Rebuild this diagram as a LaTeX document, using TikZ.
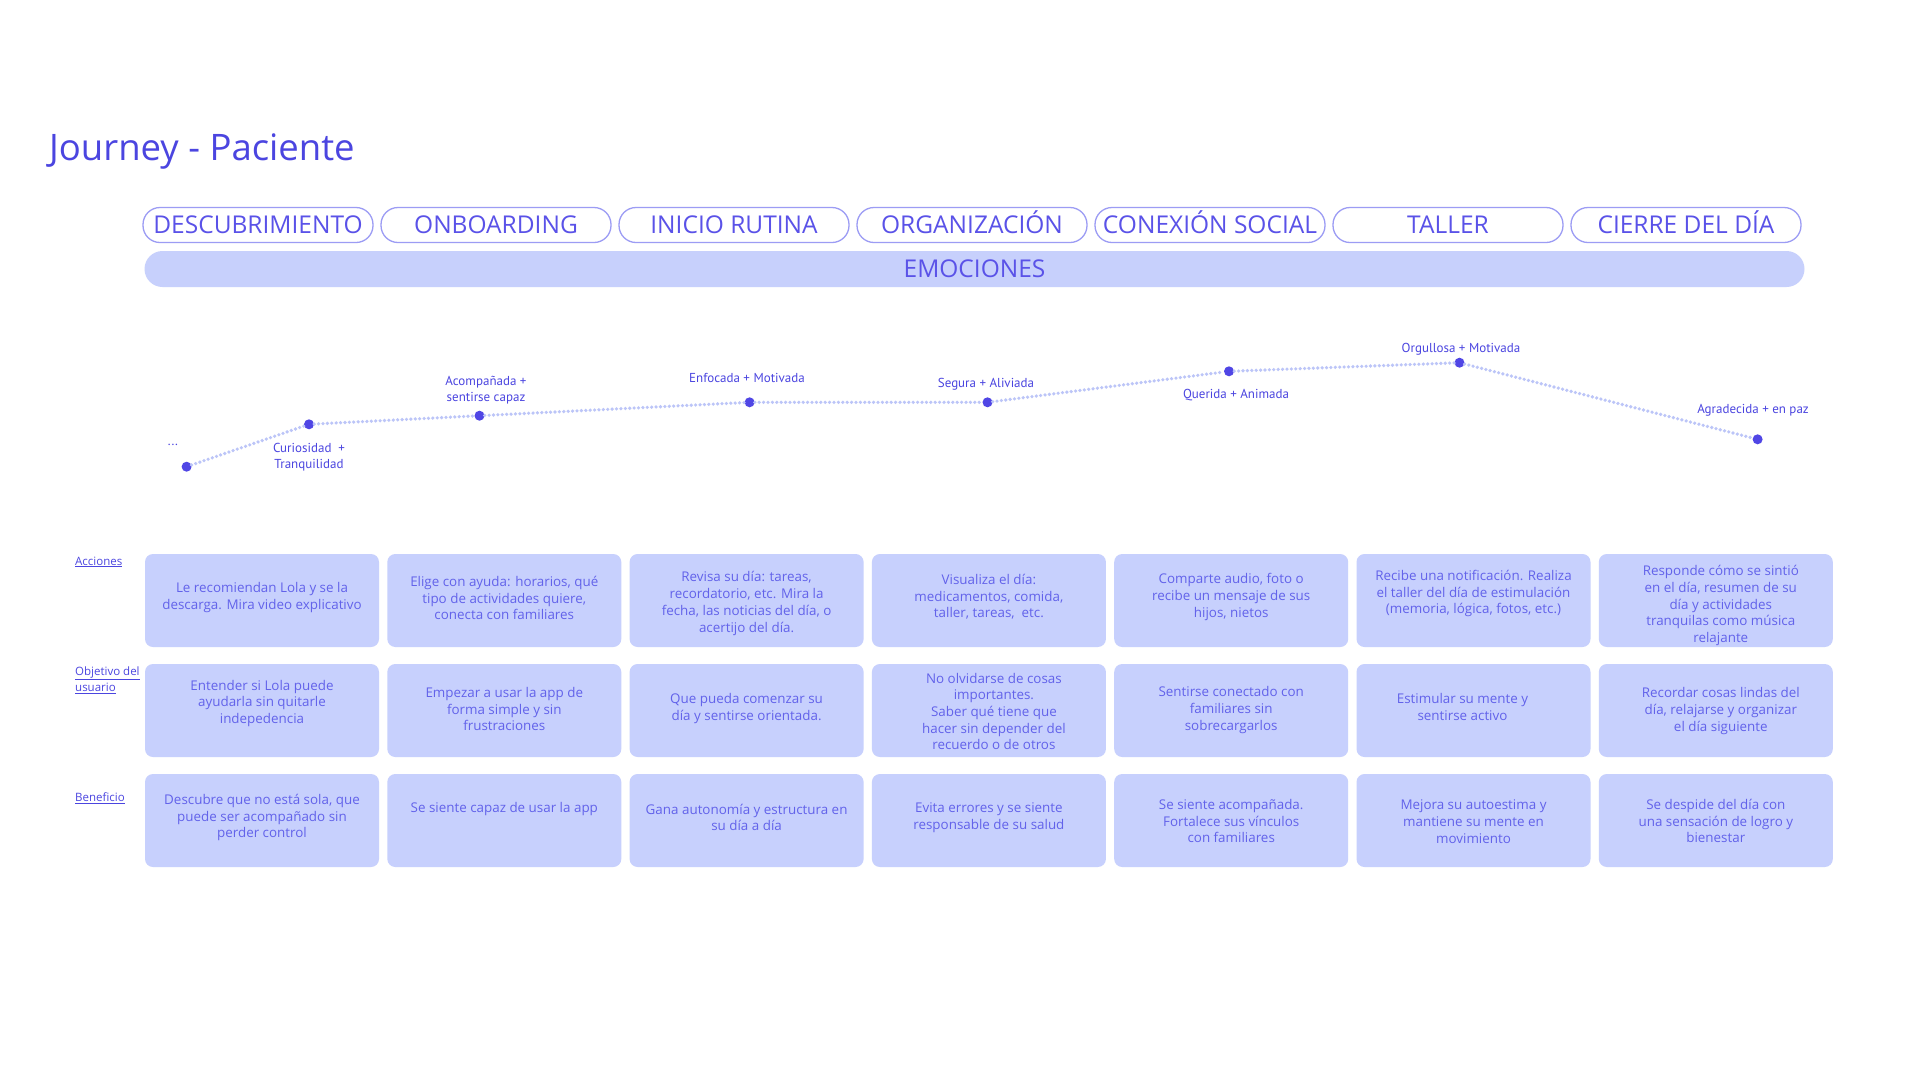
\documentclass[tikz,border=0pt]{standalone}
\usepackage{fontspec}
\setmainfont{Open Sans}
\newfontfamily\labfont{PT Sans}
\definecolor{indigo}{HTML}{4B45E0}
\definecolor{pilltext}{HTML}{5A52E8}
\definecolor{pillline}{HTML}{9C9CF4}
\definecolor{barfill}{HTML}{C7D0FC}
\definecolor{cardfill}{HTML}{C7D0FD}
\definecolor{cardtext}{HTML}{6262EA}
\definecolor{dotline}{HTML}{BCC5F8}
\definecolor{dotfill}{HTML}{5046E5}
\tikzset{
  pill/.style={draw=pillline, line width=1.3pt, rounded corners=17pt, minimum width=230pt, minimum height=35pt, inner sep=0pt, text height=16pt, text depth=0pt, text=pilltext, font=\fontsize{24.5}{28}\selectfont},
  emobar/.style={fill=barfill, rounded corners=18pt, minimum width=1660pt, minimum height=36pt, inner sep=0pt, text height=16pt, text depth=0pt, text=pilltext, font=\fontsize{24.5}{28}\selectfont},
  card/.style={fill=cardfill, rounded corners=8pt, minimum width=234pt, minimum height=93pt, inner sep=0pt},
  cardtxt/.style={text=cardtext, align=center, inner sep=0pt, font=\fontsize{13.4}{16.7}\selectfont},
  emodot/.style={circle, fill=dotfill, minimum size=10pt, inner sep=0pt},
  emoline/.style={draw=dotline, line width=3.6pt, line cap=round, dash pattern=on 0pt off 4.4pt},
  emolab/.style={text=indigo, align=center, inner sep=0pt, font=\labfont\fontsize{13}{16}\selectfont},
  rowlab/.style={text=indigo, align=left, anchor=west, inner sep=0pt, font=\fontsize{11.5}{16}\selectfont},
}
\newcommand\jcard[6]{%
  \node[card] (#1) at (#2+117, #3+46.5) {};
  \node[cardtxt] (#1t) at (#2+117+#4, #3+46.5+#5) {#6};}
\begin{document}
\begin{tikzpicture}[x=1pt,y=-1pt]
\useasboundingbox (0,0) rectangle (1920,1080);
\fill[white] (0,0) rectangle (1920,1080);
% title
\node[anchor=base west, inner sep=0pt, text=indigo, font=\fontsize{36.5}{44}\selectfont] (title) at (49,160) {Journey - Paciente};
% stage pills
\foreach \nm [count=\i from 0] in {DESCUBRIMIENTO, ONBOARDING, INICIO RUTINA, ORGANIZACIÓN, CONEXIÓN SOCIAL, TALLER, CIERRE DEL DÍA}
  \node[pill] (s\i) at (143+115+238*\i, 225) {\nm};
% emotions bar
\node[emobar] (emo) at (974.5,269) {EMOCIONES};
% emotion curve
\node[emodot] (e0) at (186.6,466.7) {};
\node[emodot] (e1) at (309,424.3) {};
\node[emodot] (e2) at (479.5,415.7) {};
\node[emodot] (e3) at (749.6,402.3) {};
\node[emodot] (e4) at (987.5,402.3) {};
\node[emodot] (e5) at (1229,371.3) {};
\node[emodot] (e6) at (1459.5,362.7) {};
\node[emodot] (e7) at (1757.6,439.3) {};
\draw[emoline] (e0) -- (e1) -- (e2) -- (e3) -- (e4) -- (e5) -- (e6) -- (e7);
\node[emolab] (l0) at (173,445) {...};
\node[emolab] (l1) at (309,457) {Curiosidad\ \ +\\Tranquilidad};
\node[emolab] (l2) at (486,390) {Acompañada +\\sentirse capaz};
\node[emolab] (l3) at (747,378) {Enfocada + Motivada};
\node[emolab] (l4) at (986,384) {Segura + Aliviada};
\node[emolab] (l5) at (1236,395) {Querida + Animada};
\node[emolab] (l6) at (1461,349) {Orgullosa + Motivada};
\node[emolab] (l7) at (1753,410) {Agradecida + en paz};
% row labels
\node[rowlab] (ra) at (75,562) {\underline{Acciones}};
\node[rowlab] (rb) at (75,680) {\underline{Objetivo del}\\\underline{usuario}};
\node[rowlab] (rc) at (75,798) {\underline{Beneficio}};
% row 1
\jcard{a1}{145}{554}{0}{-3}{Le recomiendan Lola y se la\\descarga. Mira video explicativo}
\jcard{a2}{387.3}{554}{0}{-2.5}{Elige con ayuda: horarios, qué\\tipo de actividades quiere,\\conecta con familiares}
\jcard{a3}{629.6}{554}{0}{3}{Revisa su día: tareas,\\recordatorio, etc. Mira la\\fecha, las noticias del día, o\\acertijo del día.}
\jcard{a4}{871.9}{554}{0}{-3.5}{Visualiza el día:\\medicamentos, comida,\\taller, tareas,\ \ etc.}
\jcard{a5}{1114.2}{554}{0}{-3.5}{Comparte audio, foto o\\recibe un mensaje de sus\\hijos, nietos}
\jcard{a6}{1356.5}{554}{0}{-7}{Recibe una notificación. Realiza\\el taller del día de estimulación\\(memoria, lógica, fotos, etc.)}
\jcard{a7}{1598.8}{554}{5}{5}{Responde cómo se sintió\\en el día, resumen de su\\día y actividades\\tranquilas como música\\relajante}
% row 2
\jcard{b1}{145}{664}{0}{-7}{Entender si Lola puede\\ayudarla sin quitarle\\indepedencia}
\jcard{b2}{387.3}{664}{0}{-1.5}{Empezar a usar la app de\\forma simple y sin\\frustraciones}
\jcard{b3}{629.6}{664}{0}{-2}{Que pueda comenzar su\\día y sentirse orientada.}
\jcard{b4}{871.9}{664}{5}{1}{No olvidarse de cosas\\importantes.\\Saber qué tiene que\\hacer sin depender del\\recuerdo o de otros}
\jcard{b5}{1114.2}{664}{0}{-0.5}{Sentirse conectado con\\familiares sin\\sobrecargarlos}
\jcard{b6}{1356.5}{664}{-11}{-3.5}{Estimular su mente y\\sentirse activo}
\jcard{b7}{1598.8}{664}{5}{0.5}{Recordar cosas lindas del\\día, relajarse y organizar\\el día siguiente}
% row 3
\jcard{c1}{145}{774}{0}{-3}{Descubre que no está sola, que\\puede ser acompañado sin\\perder control}
\jcard{c2}{387.3}{774}{0}{-11}{Se siente capaz de usar la app}
\jcard{c3}{629.6}{774}{0}{-3}{Gana autonomía y estructura en\\su día a día}
\jcard{c4}{871.9}{774}{0}{-3}{Evita errores y se siente\\responsable de su salud}
\jcard{c5}{1114.2}{774}{0}{0.5}{Se siente acompañada.\\Fortalece sus vínculos\\con familiares}
\jcard{c6}{1356.5}{774}{0}{1}{Mejora su autoestima y\\mantiene su mente en\\movimiento}
\jcard{c7}{1598.8}{774}{0}{0.5}{Se despide del día con\\una sensación de logro y\\bienestar}
\end{tikzpicture}
\end{document}
